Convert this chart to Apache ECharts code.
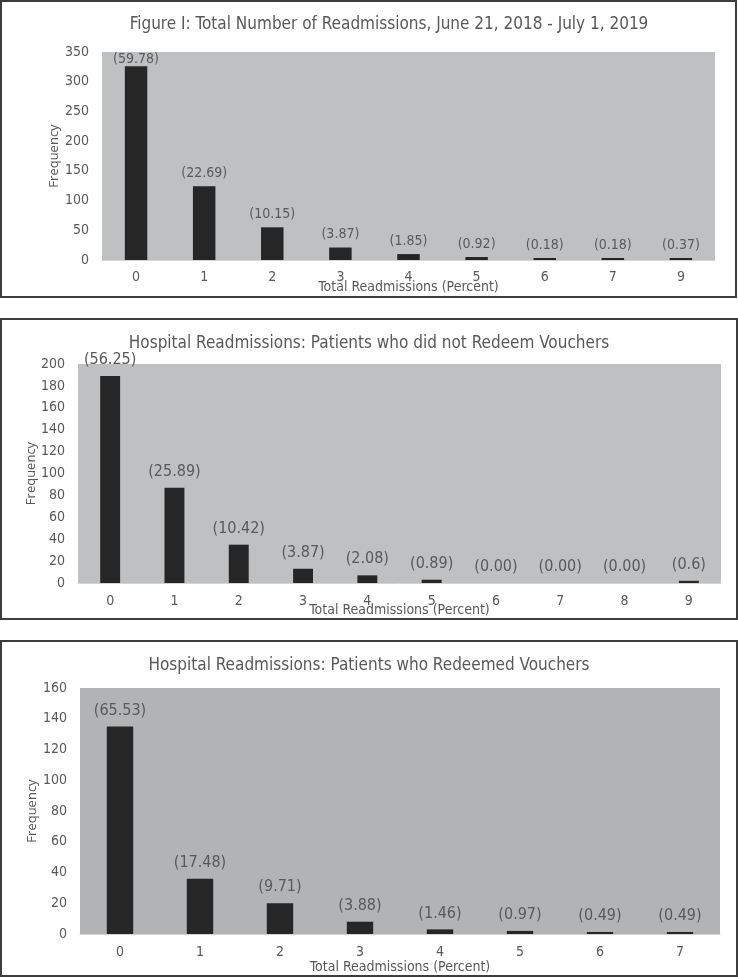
<!DOCTYPE html>
<html>
<head>
<meta charset="utf-8">
<script src="https://cdn.jsdelivr.net/npm/echarts@6/dist/echarts.min.js"></script>
<style>html,body{margin:0;padding:0;background:#fff}#c{width:738px;height:978px}</style>
</head>
<body>
<div id="c"></div>
<script>
// ---- data ----
const titles = [
  'Figure I: Total Number of Readmissions, June 21, 2018 - July 1, 2019',
  'Hospital Readmissions: Patients who did not Redeem Vouchers',
  'Hospital Readmissions: Patients who Redeemed Vouchers'
];
const xName = 'Total Readmissions (Percent)';
const yName = 'Frequency';

const cats1 = ['0', '1', '2', '3', '4', '5', '6', '7', '9'];
const freq1 = [326, 124, 55, 21, 10, 5, 1, 1, 2];
const pct1 = ['(59.78)', '(22.69)', '(10.15)', '(3.87)', '(1.85)', '(0.92)', '(0.18)', '(0.18)', '(0.37)'];

const cats2 = ['0', '1', '2', '3', '4', '5', '6', '7', '8', '9'];
const freq2 = [189, 87, 35, 13, 7, 3, 0, 0, 0, 2];
const pct2 = ['(56.25)', '(25.89)', '(10.42)', '(3.87)', '(2.08)', '(0.89)', '(0.00)', '(0.00)', '(0.00)', '(0.6)'];

const cats3 = ['0', '1', '2', '3', '4', '5', '6', '7'];
const freq3 = [135, 36, 20, 8, 3, 2, 1, 1];
const pct3 = ['(65.53)', '(17.48)', '(9.71)', '(3.88)', '(1.46)', '(0.97)', '(0.49)', '(0.49)'];

const yMax = [350, 200, 160];
const yStep = [50, 20, 20];

// ---- styling ----
const FONT = "'Liberation Sans Narrow','DejaVu Sans Condensed',sans-serif";
const TXT = '#595959';
const BAR = '#262626';

const panels = [
  {cats: cats1, freq: freq1, pct: pct1, grid: {left: 102, top: 52, width: 613, height: 208}, bg: '#bfc0c2',
   barW: '33%', lab: 14, labDist: 6, minH: 2, xGap: 20, yGap: 41, lblMargin: 10, frame: [1, 1, 735, 296], title: [389, 25, 17]},
  {cats: cats2, freq: freq2, pct: pct2, grid: {left: 78, top: 364, width: 643, height: 219}, bg: '#bfc0c2',
   barW: '31%', lab: 16, labDist: 8, minH: 0, xGap: 20, yGap: 40, lblMargin: 11, frame: [1, 319, 736, 300], title: [369, 344, 17]},
  {cats: cats3, freq: freq3, pct: pct3, grid: {left: 80, top: 688, width: 640, height: 246}, bg: '#b2b3b5',
   barW: '33%', lab: 16, labDist: 8, minH: 2, xGap: 26, yGap: 41, lblMargin: 11, frame: [1, 641, 736, 335], title: [369, 666, 17]}
];

const option = {
  animation: false,
  backgroundColor: '#ffffff',
  grid: [], xAxis: [], yAxis: [], series: [], graphic: []
};

panels.forEach((p, i) => {
  option.grid.push(Object.assign({show: true, backgroundColor: p.bg, borderWidth: 0}, p.grid));
  option.xAxis.push({
    type: 'category', gridIndex: i, data: p.cats,
    name: xName, nameLocation: 'middle', nameGap: p.xGap, nameMoveOverlap: false,
    nameTextStyle: {color: TXT, fontFamily: FONT, fontSize: 14},
    axisLine: {show: true, lineStyle: {color: '#d4d4d4', width: 1}},
    axisTick: {show: false},
    axisLabel: {color: TXT, fontFamily: FONT, fontSize: 14, margin: p.lblMargin}
  });
  option.yAxis.push({
    type: 'value', gridIndex: i, min: 0, max: yMax[i], interval: yStep[i],
    name: yName, nameLocation: 'middle', nameGap: p.yGap, nameRotate: 90, nameMoveOverlap: false,
    nameTextStyle: {color: TXT, fontFamily: "'Open Sans',sans-serif", fontSize: 13},
    axisLine: {show: false}, axisTick: {show: false}, splitLine: {show: false},
    axisLabel: {color: TXT, fontFamily: FONT, fontSize: 14, margin: 13}
  });
  option.series.push({
    type: 'bar', xAxisIndex: i, yAxisIndex: i,
    barWidth: p.barW, barMinHeight: p.minH,
    itemStyle: {color: BAR},
    data: p.freq.map((v, k) => {
      const d = {value: v};
      if (i === 0 && k === 0) d.label = {distance: 0};
      return d;
    }),
    label: {
      show: true, position: 'top', distance: p.labDist,
      color: TXT, fontFamily: FONT, fontSize: p.lab,
      formatter: (prm) => p.pct[prm.dataIndex]
    }
  });
  option.graphic.push({
    type: 'rect', shape: {x: p.frame[0], y: p.frame[1], width: p.frame[2], height: p.frame[3]},
    style: {fill: 'none', stroke: '#3d3d3d', lineWidth: 2}, silent: true
  });
  option.graphic.push({
    type: 'text', x: p.title[0], y: p.title[1],
    style: {text: titles[i], align: 'center', verticalAlign: 'middle',
            fontFamily: FONT, fontSize: p.title[2], fill: TXT},
    silent: true
  });
});

const chart = echarts.init(document.getElementById('c'), null, {renderer: 'canvas'});
chart.setOption(option);
</script>
</body>
</html>
